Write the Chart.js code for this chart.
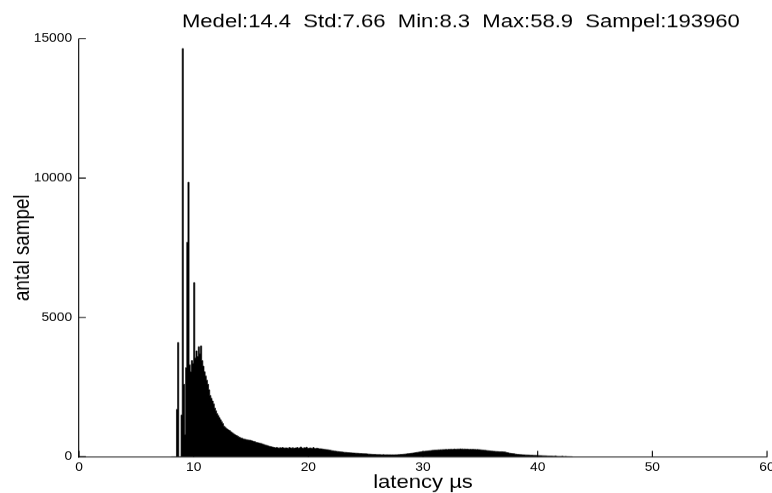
<!DOCTYPE html>
<html>
<head>
<meta charset="utf-8">
<title>latency histogram</title>
<script src="https://cdn.jsdelivr.net/npm/chart.js@4.4.1/dist/chart.umd.min.js"></script>
<style>
  html, body { margin: 0; padding: 0; background: #fff; overflow: hidden; }
  #wrap { width: 772px; height: 493px; overflow: hidden; }
  /* drawn as a 560x420 figure, then stretched to the 772x493 window like the original */
  #histChart { transform-origin: 0 0; transform: scale(1.378571, 1.173810); }
</style>
</head>
<body>
<div id="wrap"><canvas id="histChart" width="560" height="420"></canvas></div>
<script>
// histogram of latency samples, bins of 0.1 us
const binStart = 8.05;   // centre of first bin (us)
const binWidth = 0.1;
const counts = [
    0, 0, 0, 0, 0, 1700, 4100, 0, 0, 1500,                  // 8.05 - 8.95
    14650, 2600, 800, 3200, 7700, 9850, 3300, 3050, 3450, 3350,
    6250, 3550, 3800, 3600, 3950, 3700, 3980, 3450, 3250, 3050,
    2900, 2750, 2600, 2400, 2200, 2100, 2000, 1900, 1750, 1650,
    1550, 1480, 1400, 1330, 1260, 1190, 1100, 1060, 1020, 990,
    960, 940, 900, 870, 840, 810, 780, 760, 740, 710,
    690, 670, 660, 640, 630, 620, 610, 600, 595, 590,
    580, 560, 550, 540, 520, 510, 500, 490, 480, 470,
    450, 440, 420, 410, 400, 380, 370, 360, 350, 340,
    330, 320, 335, 320, 310, 325, 315, 330, 320, 310,
    320, 315, 305, 330, 320, 310, 325, 300, 315, 320,
    330, 310, 320, 350, 315, 305, 325, 320, 340, 310,
    300, 320, 310, 305, 330, 300, 295, 310, 300, 290,
    290, 285, 280, 270, 265, 260, 255, 250, 240, 230,
    220, 215, 205, 200, 195, 190, 185, 180, 175, 170,
    165, 160, 158, 155, 150, 148, 145, 140, 138, 135,
    132, 130, 128, 125, 122, 120, 118, 115, 112, 110,
    108, 105, 100, 98, 95, 92, 90, 88, 85, 82,
    80, 78, 80, 76, 75, 78, 74, 72, 75, 73,
    72, 74, 70, 73, 71, 72, 75, 74, 78, 80,
    85, 88, 92, 96, 100, 105, 110, 115, 120, 125,
    130, 135, 140, 148, 155, 160, 168, 175, 180, 185,
    190, 195, 200, 205, 210, 215, 220, 225, 230, 235,
    240, 238, 245, 250, 248, 255, 252, 260, 258, 262,
    265, 260, 270, 268, 275, 265, 272, 278, 270, 275,
    280, 275, 285, 278, 282, 275, 280, 272, 276, 270,
    268, 272, 265, 270, 262, 266, 260, 262, 258, 255,
    250, 245, 240, 235, 230, 225, 220, 215, 210, 205,
    200, 198, 195, 190, 188, 185, 183, 180, 182, 178,
    175, 170, 160, 150, 140, 130, 125, 120, 115, 110,
    100, 95, 90, 85, 80, 78, 75, 72, 70, 68,
    66, 64, 62, 60, 58, 56, 54, 52, 50, 48,
    46, 44, 42, 40, 38, 36, 34, 32, 30, 28,
    26, 25, 24, 22, 20, 30, 18, 16, 15, 14,
    12, 20, 10, 8, 15, 6, 5, 4, 3, 2,               // 42.05 - 42.95
    0
];
const xTicks = [0, 10, 20, 30, 40, 50, 60];
const yTicks = [0, 5000, 10000, 15000];
const titleText = 'Medel:14.4  Std:7.66  Min:8.3  Max:58.9  Sampel:193960';
const xLabel = 'latency µs';
const yLabel = 'antal sampel';

const FONT = '"Liberation Sans", Arial, Helvetica, sans-serif';

const points = counts.map((c, i) => ({ x: binStart + i * binWidth, y: c }));

// matlab style: short tick marks pointing into the axes
const inwardTicks = {
    id: 'inwardTicks',
    afterDatasetsDraw(chart) {
        const { ctx, chartArea: a, scales: { x, y } } = chart;
        ctx.save();
        ctx.strokeStyle = '#000';
        ctx.lineWidth = 0.8;
        ctx.beginPath();
        x.ticks.forEach(t => {
            const px = x.getPixelForValue(t.value);
            ctx.moveTo(px, a.bottom);
            ctx.lineTo(px, a.bottom - 5);
        });
        y.ticks.forEach(t => {
            const py = y.getPixelForValue(t.value);
            ctx.moveTo(a.left, py);
            ctx.lineTo(a.left + 5, py);
        });
        ctx.stroke();
        ctx.restore();
    }
};

// stats line above the plot
const statsTitle = {
    id: 'statsTitle',
    afterDraw(chart) {
        const ctx = chart.ctx;
        ctx.save();
        ctx.fillStyle = '#000';
        ctx.font = '16px ' + FONT;
        ctx.textAlign = 'left';
        ctx.textBaseline = 'alphabetic';
        ctx.fillText(titleText, 132, 23);
        ctx.restore();
    }
};

new Chart(document.getElementById('histChart'), {
    type: 'line',
    data: {
        datasets: [{
            data: points,
            stepped: 'middle',
            fill: 'origin',
            backgroundColor: '#000',
            borderColor: '#000',
            borderWidth: 0.5,
            pointRadius: 0
        }]
    },
    options: {
        responsive: false,
        animation: false,
        devicePixelRatio: 1.378571,
        layout: { padding: { top: 33, right: 3.6, bottom: 0, left: 0 } },
        plugins: {
            legend: { display: false },
            tooltip: { enabled: false }
        },
        scales: {
            x: {
                type: 'linear',
                min: 0,
                max: 60,
                afterBuildTicks: s => { s.ticks = xTicks.map(v => ({ value: v })); },
                afterFit: s => { s.height = 30.9; s.paddingLeft = 0; s.paddingRight = 0; },
                grid: { display: false, drawTicks: false },
                border: { display: true, color: '#000', width: 0.8 },
                ticks: { color: '#000', padding: 3, maxRotation: 0, callback: v => String(v), font: { family: FONT, size: 10 } },
                title: { display: true, text: xLabel, color: '#000', font: { family: FONT, size: 16 }, padding: { top: 0, bottom: -1.2 } }
            },
            y: {
                min: 0,
                max: 15000,
                afterBuildTicks: s => { s.ticks = yTicks.map(v => ({ value: v })); },
                afterFit: s => { s.width = 57.3; s.paddingTop = 0; s.paddingBottom = 0; },
                grid: { display: false, drawTicks: false },
                border: { display: true, color: '#000', width: 0.8 },
                ticks: { color: '#000', padding: 5, callback: v => String(v), font: { family: FONT, size: 10 } },
                title: { display: true, text: yLabel, color: '#000', font: { family: FONT, size: 16 }, padding: { top: 7, bottom: 0 } }
            }
        }
    },
    plugins: [inwardTicks, statsTitle]
});
</script>
</body>
</html>
